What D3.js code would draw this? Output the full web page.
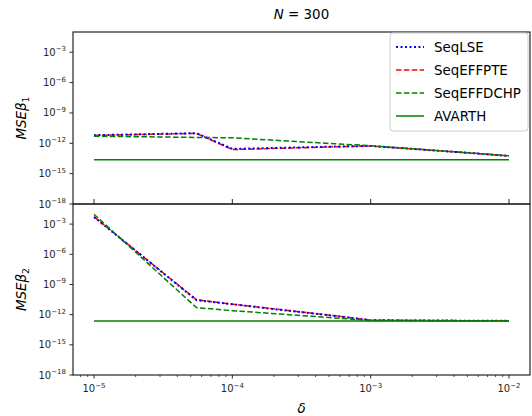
<!DOCTYPE html>
<html>
<head>
<meta charset="utf-8">
<script src="https://cdn.jsdelivr.net/npm/d3@7"></script>
<style>
  body { margin: 0; background: #fff; }
  svg { font-family: "DejaVu Sans", sans-serif; }
</style>
</head>
<body>
<div id="chart"></div>
<script>
// delta grid (x) shared by both panels
var delta = [1e-5, 5.5e-5, 1e-4, 5.5e-4, 1e-3, 5.5e-3, 1e-2];

// top panel: MSE beta1
var lse1    = [6.3e-12, 1.0e-11, 2.8e-13, 4.7e-13, 5.5e-13, 1.05e-13, 5.6e-14];
var pte1    = [6.0e-12, 9.5e-12, 2.4e-13, 4.5e-13, 5.4e-13, 1.05e-13, 5.6e-14];
var dchp1   = [5.0e-12, 3.8e-12, 3.5e-12, 9.0e-13, 5.8e-13, 1.07e-13, 5.9e-14];
var avarth1 = [2.3e-14, 2.3e-14, 2.3e-14, 2.3e-14, 2.3e-14, 2.3e-14, 2.3e-14];

// bottom panel: MSE beta2
var lse2    = [5.1e-3, 2.8e-11, 1.07e-11, 7.6e-13, 2.75e-13, 2.5e-13, 2.4e-13];
var pte2    = [5.3e-3, 3.0e-11, 1.1e-11, 7.8e-13, 2.8e-13, 2.5e-13, 2.4e-13];
var dchp2   = [9.5e-3, 5.0e-12, 2.5e-12, 4.7e-13, 2.6e-13, 2.5e-13, 2.4e-13];
var avarth2 = [2.35e-13, 2.35e-13, 2.35e-13, 2.35e-13, 2.35e-13, 2.35e-13, 2.35e-13];

var seriesNames = ["SeqLSE", "SeqEFFPTE", "SeqEFFDCHP", "AVARTH"];
var yTickExp = [-18, -15, -12, -9, -6, -3];
var xTickExp = [-5, -4, -3, -2];

var width = 532, height = 416;
var left = 73, right = 530;
var top1 = 32, bot1 = 204, top2 = 204, bot2 = 375;
var axisCol = "#262626";

var svg = d3.select("#chart").append("svg")
    .attr("width", width)
    .attr("height", height);

var x = d3.scaleLog()
    .domain([Math.pow(10, -5.152), Math.pow(10, -1.848)])
    .range([left, right]);

var y1 = d3.scaleLog().domain([1e-18, 1e-1]).range([bot1, top1]);
var y2 = d3.scaleLog().domain([1e-18, 1e-1]).range([bot2, top2]);

// line styles in legend order
var styles = {
    "SeqLSE":     {color: "#0000ff", dash: "2,2.5", w: 2},
    "SeqEFFPTE":  {color: "#ff0000", dash: "5.5,2.4", w: 1.5},
    "SeqEFFDCHP": {color: "#008000", dash: "5.5,2.4", w: 1.5},
    "AVARTH":     {color: "#008000", dash: null, w: 1.5}
};

function supLabel(sel, base, exp, size) {
    sel.append("tspan").text(base);
    sel.append("tspan")
        .attr("dy", -size * 0.45)
        .style("font-size", (size * 0.7) + "px")
        .text("\u2212" + Math.abs(exp));
}

function panel(y, top, bot, data, showX) {
    var g = svg.append("g");

    // y ticks + labels
    yTickExp.forEach(function(e) {
        var yy = y(Math.pow(10, e));
        g.append("line")
            .attr("x1", left - 3.5).attr("x2", left)
            .attr("y1", yy).attr("y2", yy)
            .attr("stroke", axisCol).attr("stroke-width", 1);
        var t = g.append("text")
            .attr("x", left - 7)
            .attr("y", yy + 3.5)
            .attr("text-anchor", "end")
            .style("font-size", "10px")
            .attr("fill", axisCol);
        supLabel(t, "10", e, 10);
    });

    // lines (red drawn before blue so the dots sit on top)
    var line = d3.line()
        .x(function(d, i) { return x(delta[i]); })
        .y(function(d) { return y(d); });

    ["SeqEFFPTE", "SeqLSE", "SeqEFFDCHP", "AVARTH"].forEach(function(name) {
        var s = styles[name];
        g.append("path")
            .datum(data[name])
            .attr("d", line)
            .attr("fill", "none")
            .attr("stroke", s.color)
            .attr("stroke-width", s.w)
            .attr("stroke-dasharray", s.dash);
    });

    // x ticks
    if (showX) {
        for (var e = -6; e <= -2; e++) {
            for (var m = 1; m < 10; m++) {
                var v = m * Math.pow(10, e);
                if (v < x.domain()[0] || v > x.domain()[1]) continue;
                var xx = x(v);
                g.append("line")
                    .attr("x1", xx).attr("x2", xx)
                    .attr("y1", bot).attr("y2", bot + (m == 1 ? 3.5 : 2))
                    .attr("stroke", axisCol).attr("stroke-width", m == 1 ? 1 : 0.8);
            }
        }
        xTickExp.forEach(function(e) {
            var t = g.append("text")
                .attr("x", x(Math.pow(10, e)))
                .attr("y", bot + 17)
                .attr("text-anchor", "middle")
                .style("font-size", "10px")
                .attr("fill", axisCol);
            supLabel(t, "10", e, 10);
        });
    } else {
        xTickExp.forEach(function(e) {
            var xx = x(Math.pow(10, e));
            g.append("line")
                .attr("x1", xx).attr("x2", xx)
                .attr("y1", bot - 5).attr("y2", bot)
                .attr("stroke", axisCol).attr("stroke-width", 1);
        });
    }

    // frame
    g.append("rect")
        .attr("x", left).attr("y", top)
        .attr("width", right - left).attr("height", bot - top)
        .attr("fill", "none")
        .attr("stroke", axisCol).attr("stroke-width", 1.2);
    return g;
}

panel(y1, top1, bot1, {
    "SeqLSE": lse1, "SeqEFFPTE": pte1, "SeqEFFDCHP": dchp1, "AVARTH": avarth1
}, false);
panel(y2, top2, bot2, {
    "SeqLSE": lse2, "SeqEFFPTE": pte2, "SeqEFFDCHP": dchp2, "AVARTH": avarth2
}, true);

// title
var title = svg.append("text")
    .attr("x", (left + right) / 2)
    .attr("y", 19)
    .attr("text-anchor", "middle")
    .style("font-size", "13.4px")
    .attr("fill", "#000");
title.append("tspan").style("font-style", "italic").text("N");
title.append("tspan").text(" = 300");

// y labels
function yLabel(cy, sub) {
    var t = svg.append("text")
        .attr("transform", "translate(26," + cy + ") rotate(-90)")
        .attr("text-anchor", "middle")
        .style("font-size", "13.4px")
        .style("font-style", "italic")
        .attr("fill", "#000");
    t.append("tspan").text("MSE\u03b2");
    t.append("tspan")
        .attr("dy", 3)
        .style("font-size", "9.4px")
        .style("font-style", "normal")
        .text(sub);
}
yLabel((top1 + bot1) / 2, "1");
yLabel((top2 + bot2) / 2, "2");

// x label
svg.append("text")
    .attr("x", (left + right) / 2)
    .attr("y", 413)
    .attr("text-anchor", "middle")
    .style("font-size", "13.4px")
    .style("font-style", "italic")
    .text("\u03b4");

// legend
var lg = svg.append("g");
lg.append("rect")
    .attr("x", 390).attr("y", 33)
    .attr("width", 138).attr("height", 98)
    .attr("rx", 3)
    .attr("fill", "#fff").attr("fill-opacity", 0.8)
    .attr("stroke", "#cccccc").attr("stroke-width", 1);

var rowY = d3.scalePoint().domain(seriesNames).range([47, 116]);
seriesNames.forEach(function(name) {
    var s = styles[name];
    var yy = rowY(name);
    lg.append("line")
        .attr("x1", 396).attr("x2", 424)
        .attr("y1", yy).attr("y2", yy)
        .attr("stroke", s.color)
        .attr("stroke-width", s.w)
        .attr("stroke-dasharray", s.dash);
    lg.append("text")
        .attr("x", 434)
        .attr("y", yy + 5)
        .style("font-size", "13.4px")
        .attr("fill", "#000")
        .text(name);
});
</script>
</body>
</html>
